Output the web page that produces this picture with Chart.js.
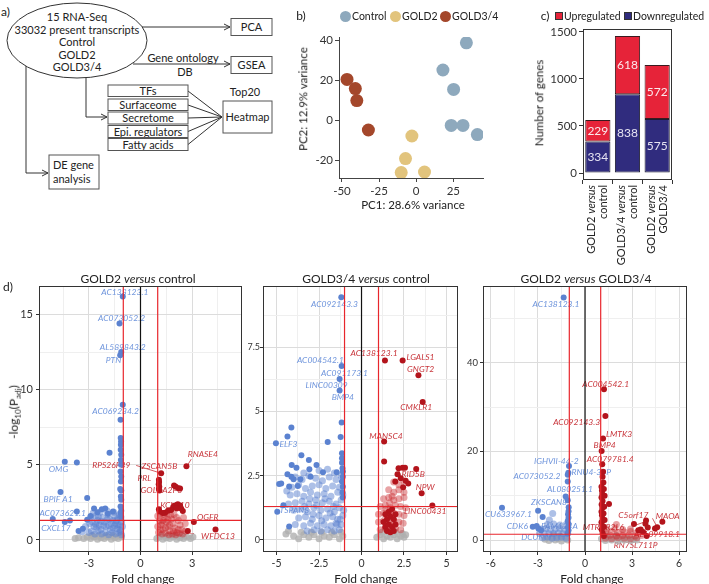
<!DOCTYPE html>
<html><head><meta charset="utf-8">
<script src="https://cdn.jsdelivr.net/npm/chart.js@4.4.1/dist/chart.umd.min.js"></script>
<style>
body{margin:0;background:#fff;}
#root{position:relative;width:709px;height:584px;overflow:hidden;font-family:Lato,"Noto Sans",sans-serif;color:#222;background:#fff;}
.t{position:absolute;white-space:nowrap;line-height:1;}
canvas{position:absolute;}
</style></head>
<body><div id="root">
<svg width="300" height="200" style="position:absolute;left:0;top:0" font-family="Lato, sans-serif" font-size="11" fill="#222">
<defs><marker id="arr" markerWidth="8" markerHeight="8" refX="7" refY="4" orient="auto" markerUnits="userSpaceOnUse"><path d="M1,1 L7,4 L1,7" fill="none" stroke="#333" stroke-width="1"/></marker></defs>
<text x="1" y="16" font-size="12">a)</text>
<ellipse cx="77" cy="40.5" rx="70" ry="37.5" fill="none" stroke="#333"/>
<g text-anchor="middle">
<text x="77" y="20.5">15 RNA-Seq</text>
<text x="77" y="33.5">33032 present transcripts</text>
<text x="77" y="46">Control</text>
<text x="77" y="58.5">GOLD2</text>
<text x="77" y="71">GOLD3/4</text>
<text x="251.5" y="31">PCA</text>
<text x="183" y="62">Gene ontology</text>
<text x="185" y="76">DB</text>
<text x="251.5" y="69">GSEA</text>
<text x="148" y="95">TFs</text>
<text x="148" y="109">Surfaceome</text>
<text x="148" y="122">Secretome</text>
<text x="148" y="135.5">Epi. regulators</text>
<text x="148" y="148.5">Fatty acids</text>
<text x="245" y="96">Top20</text>
<text x="247.5" y="121">Heatmap</text>
</g>
<text x="53" y="169">DE gene</text>
<text x="53" y="183">analysis</text>
<g stroke="#333" fill="none">
<line x1="142" y1="27" x2="230" y2="27" marker-end="url(#arr)"/>
<line x1="133" y1="64" x2="230" y2="64" marker-end="url(#arr)"/>
<polyline points="86,78 86,117 107,117" marker-end="url(#arr)"/>
<polyline points="26,66 26,173 48,173" marker-end="url(#arr)"/>
<line x1="188" y1="91" x2="222" y2="117"/>
<line x1="188" y1="105" x2="222" y2="117"/>
<line x1="188" y1="118" x2="222" y2="117"/>
<line x1="188" y1="131.5" x2="222" y2="117"/>
<line x1="188" y1="144.5" x2="222" y2="117"/>
</g>
<g stroke="#555" fill="none">
<rect x="231" y="18.5" width="41" height="17"/>
<rect x="231" y="56.5" width="41" height="17"/>
<rect x="108" y="85" width="80" height="11.5"/>
<rect x="108" y="99" width="80" height="11.5"/>
<rect x="108" y="112" width="80" height="12"/>
<rect x="108" y="125.5" width="80" height="12"/>
<rect x="108" y="138.5" width="80" height="12"/>
<rect x="223" y="101" width="49" height="32"/>
<rect x="49" y="155" width="50" height="34"/>
</g>
</svg>
<canvas id="pca" width="219" height="220" style="left:290px;top:0"></canvas>
<canvas id="bar" width="189" height="280" style="left:520px;top:0"></canvas>
<canvas id="v1" width="248" height="314" style="left:0;top:270px"></canvas>
<canvas id="v2" width="214" height="314" style="left:248px;top:270px"></canvas>
<canvas id="v3" width="247" height="314" style="left:462px;top:270px"></canvas>
</div>
<script>
// ---------- Panel b: PCA ----------
const pcaControl = [[33.8,38.6],[18,25],[25.2,15.3],[23.6,-2.7],[31.5,-2.7],[41.2,-7.3]];
const pcaGold2 = [[-2.9,-8],[-7.2,-19.3],[-10.1,-26.3],[5.6,-26]];
const pcaGold34 = [[-46.6,20.3],[-41,15.7],[-40,9.7],[-32.2,-5]];
const pcaXTicks = [-50,-25,0,25];
const pcaYTicks = [-20,0,20,40];

// ---------- Panel c: DE gene counts ----------
const degComparisons = [['GOLD2','control'],['GOLD3/4','control'],['GOLD2','GOLD3/4']];
const degDown = [334,838,575];
const degUp = [229,618,572];
const degTicks = [0,500,1000,1500];

// ---------- Panel d thresholds ----------
const foldCutoffs = [-1, 1];
const padjCutoff = 1.3;

// ---------- Panel d1: GOLD2 versus control ----------
const g2cDown = [[-1.03,16.2],[-1.22,14.4],[-1.12,12.5],[-1.18,12.3],[-1.03,9.0],[-1.16,8.0],
[-1.15,6.78],[-1.13,6.56],[-1.14,6.33],[-1.15,6.0],[-1.12,5.67],[-1.14,5.33],[-1.13,5.0],[-1.16,4.56],[-1.12,4.22],[-1.14,3.89],[-1.18,3.4],[-1.12,3.3],[-1.14,2.89],[-1.12,2.67],[-1.16,2.22],[-1.12,1.95],[-1.15,1.78],[-1.12,1.55],
[-1.8,5.8],[-4.4,5.2],[-3.7,5.15],[-4.65,3.2],[-3.1,2.8],[-3.7,1.9],[-5.1,1.4],[-4.4,1.2],[-4.1,1.3],[-3.6,0.6],[-3.35,0.75],
[-2.7,2.1],[-2.25,2.05],[-2.05,2.1],[-2.5,1.85],[-1.6,1.9],[-2.9,1.6],[-3.1,1.35],[-1.9,1.75]];
const g2cDownCloud = [[-2.9,1.5],[-2.8,1.2],[-2.7,0.9],[-2.6,1.6],[-2.5,1.3],[-2.4,1.0],[-2.3,0.7],[-2.2,1.5],[-2.1,1.2],[-2.0,0.9],[-1.9,1.7],[-1.8,1.4],[-1.7,1.1],[-1.6,0.8],[-1.5,1.6],[-1.4,1.3],[-1.3,1.0],[-1.2,0.7],[-1.1,1.2],[-1.05,0.9],
[-2.85,0.6],[-2.65,0.4],[-2.45,0.6],[-2.25,0.4],[-2.05,0.5],[-1.85,0.35],[-1.65,0.5],[-1.45,0.4],[-1.25,0.5],[-1.1,0.35],
[-2.75,1.8],[-2.35,1.85],[-1.95,1.95],[-1.55,1.85],[-1.25,1.7],[-3.2,0.9],[-3.4,0.55],[-3.0,0.5],[-2.55,0.85],[-2.15,0.95],[-1.75,0.7],[-1.35,0.75],[-1.15,1.45],[-2.95,1.1],[-1.45,1.1],
[-2.6,1.05],[-2.3,1.25],[-1.95,1.35],[-1.6,1.3],[-1.3,1.45],[-2.45,1.55],[-1.85,0.95],[-1.5,0.95],[-1.2,1.0],[-1.15,0.6]];
const g2cUp = [[2.67,4.9],[1.2,4.44],[1.07,4.0],[1.08,3.85],[1.06,3.7],[1.09,3.55],[1.07,3.4],[1.1,3.3],[1.95,3.62],[2.05,3.55],[2.2,3.45],[2.3,3.42],
[1.43,1.82],[1.78,2.0],[1.9,2.2],[2.0,2.3],[2.17,2.38],[2.3,2.3],[2.1,2.1],[2.36,2.1],[1.6,1.95],[1.07,2.04],[1.1,1.9],[1.3,1.8],[2.46,1.93],[3.1,1.2],[2.75,0.6],[4.36,0.7]];
const g2cUpCloud = [[1.0,1.6],[1.1,1.3],[1.2,1.0],[1.3,0.7],[1.4,1.5],[1.5,1.2],[1.6,0.9],[1.7,0.6],[1.8,1.4],[1.9,1.1],[2.0,0.8],[2.1,0.5],[2.2,1.3],[2.3,1.0],[2.4,0.7],[1.05,0.5],[1.25,0.4],[1.45,0.45],[1.65,0.35],[1.85,0.4],[2.05,0.35],[2.25,0.45],[1.15,1.75],[1.35,1.7],[1.55,1.75],[1.75,1.65],[1.95,1.7],[2.5,1.5],[2.6,1.1],[1.0,0.9],[1.3,1.3],[1.7,1.0],[2.1,1.5],[2.45,0.4],[2.6,0.6],
[1.15,0.7],[1.45,0.8],[1.6,1.35],[1.9,0.6],[2.2,0.7],[1.25,1.15]];
const g2cNs = [[-3.8,0.1],[-3.6,0.15],[-3.3,0.1],[-3.1,0.2],[-2.9,0.1],[-2.7,0.2],[-2.5,0.05],[-2.3,0.15],[-2.1,0.1],[-1.9,0.2],[-1.7,0.05],[-1.5,0.15],[-1.3,0.1],[-1.1,0.2],[-2.8,0.3],[-2.4,0.3],[-2.0,0.3],[-1.6,0.3],[-1.2,0.3],
[0.95,0.1],[1.1,0.2],[1.3,0.05],[1.5,0.15],[1.7,0.1],[1.9,0.2],[2.1,0.05],[2.3,0.15],[2.5,0.1],[2.7,0.2],[2.9,0.1],[1.2,0.3],[1.6,0.3],[2.0,0.3],[2.4,0.3],[3.05,0.2]];
const g2cLabels = [['AC138123.1',-0.91,16.5,'down'],['AC073052.2',-1.1,14.76,'down'],['AL589843.2',-1.03,12.82,'down'],['PTN',-1.57,11.93,'down'],['AC069234.2',-1.45,8.56,'down'],['OMG',-4.77,4.73,'down'],['BPIF A1',-4.79,2.73,'down'],['AC073621.1',-4.52,1.78,'down'],['CXCL17',-4.92,0.78,'down'],
['RPS26P39',-1.7,4.96,'up'],['ZSCAN5B',1.1,4.9,'up'],['PRL',0.23,4.13,'up'],['GOLGA2P6',1.2,3.33,'up'],['KCNJ10',2.0,2.3,'up'],['OGFR',3.91,1.5,'up'],['C5orf17',2.23,0.22,'up'],['WFDC13',4.5,0.22,'up'],['RNASE4',3.62,5.71,'up']];
const g2cConnectors = [[-0.25,4.96,1.2,4.44,'up'],[2.95,5.38,2.71,4.93,'up']];

// ---------- Panel d2: GOLD3/4 versus control ----------
const g34cDown = [[-1.19,9.44],[-1.17,6.77],[-1.29,6.26],[-1.29,5.81],[-1.17,4.57],[-1.23,4.0],[-1.99,3.81],
[-1.15,3.37],[-1.15,3.18],[-1.15,3.0],[-1.12,2.79],[-1.1,2.66],[-1.1,2.46],[-1.15,2.27],[-1.1,2.07],[-1.12,1.85],[-1.1,1.65],
[-5.04,3.76],[-4.13,4.37],[-4.36,4.02],[-3.54,3.29],[-4.11,2.92],[-3.83,2.81],[-3.1,3.11],[-4.36,2.56],[-4.85,2.18],[-4.73,2.2],[-4.26,2.08],[-4.6,1.35],[-4.96,1.1],[-4.26,0.52],
[-2.65,2.92],[-2.27,2.63],[-1.46,2.63],[-3.07,2.75],[-3.0,2.46],[-3.6,2.36],[-4.0,2.36],[-3.75,2.1],[-4.13,2.46]];
const g34cDownCloud = [[-3.9,2.45],[-3.5,2.35],[-3.1,2.5],[-2.7,2.4],[-2.3,2.3],[-1.9,2.45],[-1.5,2.35],[-1.2,2.5],
[-4.1,2.05],[-3.7,2.15],[-3.3,2.0],[-2.9,2.1],[-2.5,2.15],[-2.1,2.0],[-1.7,2.1],[-1.3,2.05],
[-4.2,1.75],[-3.8,1.8],[-3.4,1.7],[-3.0,1.85],[-2.6,1.75],[-2.2,1.8],[-1.8,1.7],[-1.4,1.85],[-1.1,1.75],
[-3.9,1.45],[-3.5,1.5],[-3.1,1.4],[-2.7,1.55],[-2.3,1.45],[-1.9,1.5],[-1.5,1.4],[-1.2,1.55],
[-4.0,1.15],[-3.6,1.2],[-3.2,1.1],[-2.8,1.25],[-2.4,1.15],[-2.0,1.2],[-1.6,1.1],[-1.3,1.25],[-1.05,1.15],
[-3.7,0.85],[-3.3,0.9],[-2.9,0.8],[-2.5,0.95],[-2.1,0.85],[-1.7,0.9],[-1.4,0.8],[-1.1,0.95],
[-3.9,0.6],[-3.4,0.55],[-3.0,0.65],[-2.6,0.55],[-2.2,0.6],[-1.8,0.55],[-1.5,0.65],[-1.2,0.6],
[-3.2,0.35],[-2.8,0.4],[-2.4,0.35],[-2.0,0.4],[-1.6,0.35],[-1.3,0.4],
[-2.5,2.7],[-2.0,2.75],[-1.6,2.6],[-3.4,2.6],[-4.4,1.9],[-4.3,1.4],
[-2.85,1.0],[-2.35,0.75],[-1.85,1.05],[-1.45,0.6],[-2.65,1.35],[-2.15,1.6],[-1.65,1.3],[-1.25,0.8],[-3.05,1.6],[-3.35,1.3]];
const g34cUp = [[1.38,6.98],[2.42,6.98],[3.35,6.41],[3.6,5.37],[1.33,3.83],[1.33,3.05],[2.18,2.79],[2.42,2.81],[2.56,2.81],[3.22,2.76],[2.12,2.56],[2.75,2.2],[3.54,1.82],[4.17,1.34],
[1.99,2.27],[2.31,2.4],[2.6,2.3],[2.45,2.05],
[1.4,0.5],[1.6,0.6],[1.8,0.5],[1.5,0.8],[1.7,0.9],[1.9,0.8],[1.6,1.1],[1.8,1.2],[2.0,1.0],[1.4,1.0],[1.5,0.35],[1.7,0.3],[1.9,0.35],[2.0,0.6],[1.3,0.7]];
const g34cUpCloud = [[1.9,2.25],[2.2,2.15],[2.5,2.3],[1.6,1.95],[1.9,1.85],[2.2,1.95],[2.5,1.85],
[1.3,1.6],[1.6,1.65],[1.9,1.55],[2.2,1.6],[2.5,1.65],[1.1,1.3],[1.4,1.35],[1.7,1.25],[2.0,1.35],[2.3,1.3],[2.6,1.25],
[1.0,1.0],[1.3,1.05],[1.6,0.95],[1.9,1.05],[2.2,1.0],[2.5,0.95],[1.0,0.7],[1.3,0.75],[1.6,0.65],[1.9,0.75],[2.2,0.7],[2.45,0.65],
[1.1,0.4],[1.4,0.45],[1.7,0.35],[2.0,0.45],[2.3,0.4],[1.45,1.2],[1.55,0.85],[1.75,1.0],[1.65,1.45],[1.85,0.55],[1.5,0.5],[1.8,1.7]];
const g34cNs = [[-4.45,0.23],[-4.0,0.15],[-3.7,0.05],[-3.4,0.2],[-3.1,0.1],[-2.8,0.2],[-2.5,0.05],[-2.2,0.15],[-1.9,0.1],[-1.6,0.2],[-1.3,0.05],[-1.1,0.15],[-3.55,0.3],[-2.95,0.3],[-2.35,0.3],[-1.75,0.3],[-1.2,0.3],[-4.3,0.35],
[0.9,0.1],[1.1,0.2],[1.3,0.05],[1.5,0.15],[1.7,0.1],[1.9,0.2],[2.1,0.05],[2.3,0.15],[2.5,0.1],[1.2,0.3],[1.6,0.3],[2.0,0.3],[2.4,0.25],[2.6,0.2]];
const g34cLabels = [['AC092143.3',-1.59,9.18,'down'],['AC004542.1',-2.42,6.98,'down'],['AC091173.1',-1.0,6.49,'down'],['LINC00309',-2.06,6.02,'down'],['BMP4',-1.1,5.55,'down'],['ELF3',-4.3,3.74,'down'],['TSPAN8',-3.95,1.14,'down'],
['AC138123.1',0.74,7.26,'up'],['LGALS1',3.47,7.09,'up'],['GNGT2',3.48,6.64,'up'],['CMKLR1',3.22,5.15,'up'],['MANSC4',1.44,4.05,'up'],['ARID5B',2.88,2.56,'up'],['NPW',3.75,2.04,'up'],['LINC00431',3.75,1.13,'up']];

// ---------- Panel d3: GOLD2 versus GOLD3/4 ----------
const g2g34Down = [[-1.36,54.7],[-1.02,16.7],[-1.06,15.2],[-1.1,14.7],[-1.1,13.2],[-1.23,9.8],[-1.1,9.0],[-1.04,7.4],
[-1.05,6.5],[-1.08,5.8],[-1.05,5.0],[-1.1,4.3],[-1.05,3.6],[-1.08,2.9],[-1.05,2.2],[-1.1,1.5],
[-5.29,7.3],[-2.99,6.6],[-2.7,5.2],[-3.33,3.0],[-2.97,2.6],[-3.08,3.16],[-2.8,2.2]];
const g2g34DownCloud = [[-2.06,6.0],[-2.27,4.5],[-2.4,3.5],[-2.0,3.6],[-1.6,3.4],[-1.2,3.5],
[-2.8,2.5],[-2.5,2.6],[-2.2,2.4],[-1.9,2.5],[-1.6,2.6],[-1.3,2.4],
[-2.9,1.5],[-2.6,1.6],[-2.3,1.4],[-2.0,1.5],[-1.7,1.6],[-1.4,1.4],[-1.1,1.5],
[-2.7,0.5],[-2.4,0.6],[-2.1,0.4],[-1.8,0.5],[-1.5,0.6],[-1.2,0.4]];
const g2g34Up = [[1.21,34.0],[1.3,28.0],[1.15,22.9],[1.06,20.1],[1.1,17.1],[1.15,15.4],[1.12,14.3],[1.17,13.0],[1.53,8.1],
[1.05,12.0],[1.08,11.2],[1.1,10.4],[1.05,9.6],[1.12,8.8],[1.06,8.0],[1.1,7.2],[1.05,6.4],[1.08,5.6],[1.12,4.8],[1.05,4.0],[1.1,3.2],[1.06,2.4],[1.12,1.6],[1.2,0.9],
[1.2,11.5],[1.25,10.0],[1.22,7.5],[1.18,6.0],[1.25,4.5],[1.2,3.0],
[3.12,3.6],[3.89,4.4],[4.46,2.6],[4.93,4.1],[3.55,2.4],[3.93,0.9],[3.85,3.7],[3.4,2.2],[4.0,2.8],[3.7,1.8],[4.6,2.9]];
const g2g34UpCloud = [[1.4,2.5],[1.9,2.6],[2.4,2.4],[2.9,2.5],[1.3,1.8],[1.7,1.9],[2.1,1.7],[2.5,1.8],[2.9,1.9],[3.3,1.7],
[1.2,1.0],[1.6,1.1],[2.0,0.9],[2.4,1.0],[2.8,1.1],[3.2,0.9],[3.6,1.0],[1.3,0.4],[1.7,0.3],[2.1,0.5],[2.5,0.4],[2.9,0.3],[3.3,0.5],[2.0,3.5]];
const g2g34Ns = [[-2.55,0.2],[-2.3,-0.1],[-2.1,0.5],[-1.9,0.0],[-1.7,0.3],[-1.5,-0.2],[-1.3,0.4],[-1.1,0.0],[-2.0,1.0],[-1.6,0.9],
[1.05,0.3],[1.3,-0.1],[1.5,0.4],[1.7,0.0],[1.9,0.5],[2.1,-0.2],[2.3,0.3],[2.5,0.0],[2.7,0.4],[2.9,-0.1],[3.1,0.2],[3.3,0.0],[1.4,0.9],[2.0,1.0]];
const g2g34Labels = [['AC138123.1',-1.85,53.2,'down'],['IGHVII-44-2',-1.83,17.8,'down'],['RNU4-33P',0.4,15.3,'down'],['AC073052.2',-3.06,14.3,'down'],['AL080251.1',-0.96,11.5,'down'],['ZKSCAN8',-2.29,8.6,'down'],['CU633967.1',-4.88,5.8,'down'],['CDK6',-4.31,3.16,'down'],['FAM124A',-1.63,3.16,'down'],['DCUN1D3',-2.82,0.6,'down'],
['AC004542.1',1.32,35.2,'up'],['AC092143.3',-0.53,26.5,'up'],['LMTK3',2.17,23.9,'up'],['BMP4',1.25,21.4,'up'],['AC079781.4',1.61,18.3,'up'],['C5orf17',3.08,5.56,'up'],['MAOA',5.27,5.26,'up'],['MTRNR2L6',1.17,2.86,'up'],['AL109918.1',4.59,1.28,'up'],['RN7SL711P',3.23,-1.28,'up']];
const g2g34Connectors = [[3.25,3.4,3.9,4.2,'up'],[4.3,4.9,4.6,2.9,'up']];

// ---------- styling ----------
const C_CTRL='#8ea9bd', C_G2='#e2c47d', C_G34='#a4472b';
const NAVY='#302c7e', CRIMSON='#e62339';
const BLUE='#5b82d0', BLUE_A='rgba(91,130,208,0.5)', RED='#b3141c', RED_A='rgba(200,35,40,0.42)', GREY='rgba(175,175,175,0.8)';
const LBL_BLUE='#6f95dc', LBL_RED='#c8353b';
const FONT='Lato, "Noto Sans", sans-serif';
Chart.defaults.font.family = FONT;
const xy = a => a.map(([x,y]) => ({x,y}));
const root = document.getElementById('root');

// PCA
new Chart(document.getElementById('pca'), {
  type:'scatter',
  data:{datasets:[
    {data:xy(pcaControl), backgroundColor:C_CTRL, pointRadius:6.5, borderWidth:0},
    {data:xy(pcaGold2), backgroundColor:C_G2, pointRadius:6.5, borderWidth:0},
    {data:xy(pcaGold34), backgroundColor:C_G34, pointRadius:6.5, borderWidth:0}]},
  options:{responsive:false, animation:false, devicePixelRatio:1,
    layout:{padding:{left:0,right:26,top:37,bottom:0}},
    plugins:{legend:{display:false}, tooltip:{enabled:false}},
    scales:{
      x:{min:-52,max:45, afterBuildTicks:s=>{s.ticks=pcaXTicks.map(v=>({value:v}));},
        afterFit:s=>{s.height=42;s.paddingLeft=0;s.paddingRight=0;},
        ticks:{autoSkip:false,maxRotation:0,padding:2,color:'#333',font:{size:11.5},callback:v=>String(v)},
        grid:{drawOnChartArea:false,tickLength:4,tickColor:'#444'}, border:{display:true,color:'#444'}},
      y:{min:-29,max:41.5, afterBuildTicks:s=>{s.ticks=pcaYTicks.map(v=>({value:v}));},
        afterFit:s=>{s.width=49;s.paddingTop=0;s.paddingBottom=0;},
        ticks:{autoSkip:false,padding:2,color:'#333',font:{size:11.5},callback:v=>String(v)},
        grid:{drawOnChartArea:false,tickLength:4,tickColor:'#444'}, border:{display:true,color:'#444'}}
    }}
});

// Bar chart
const barPlugin = {
  id:'barDeco',
  afterDatasetsDraw(chart){
    const {ctx, chartArea:a} = chart;
    ctx.save();
    ctx.font='12px '+FONT; ctx.textAlign='center'; ctx.textBaseline='middle';
    chart.data.datasets.forEach((ds,di)=>{
      chart.getDatasetMeta(di).data.forEach((el,i)=>{
        ctx.fillStyle = di===0 ? '#e6e4f2' : '#fbe9ec';
        ctx.fillText(String(ds.data[i]), el.x, (el.y+el.base)/2);
      });
    });
    ctx.strokeStyle='#333'; ctx.lineWidth=1;
    ctx.strokeRect(a.left+0.5,a.top+0.5,a.width-1,a.height-1);
    const xs = chart.scales.x;
    degComparisons.forEach((c,i)=>{
      const cx = xs.getPixelForValue(i);
      const top = a.bottom + 5;
      ctx.save();
      ctx.translate(cx, top); ctx.rotate(-Math.PI/2);
      ctx.fillStyle='#222'; ctx.textBaseline='middle';
      ctx.font='11px '+FONT; const w1=ctx.measureText(c[0]+' ').width;
      ctx.font='italic 11px '+FONT; const w2=ctx.measureText('versus').width;
      ctx.textAlign='left';
      ctx.font='11px '+FONT; ctx.fillText(c[0]+' ', -(w1+w2), -6);
      ctx.font='italic 11px '+FONT; ctx.fillText('versus', -w2, -6);
      ctx.font='11px '+FONT; ctx.textAlign='right'; ctx.fillText(c[1], 0, 6);
      ctx.restore();
    });
    ctx.restore();
  }
};
new Chart(document.getElementById('bar'), {
  type:'bar',
  data:{labels:degComparisons.map(c=>c[0]+' versus '+c[1]), datasets:[
    {label:'Downregulated', data:degDown, backgroundColor:NAVY, borderColor:'#1c1c30', borderWidth:1, borderSkipped:false, categoryPercentage:1, barPercentage:0.85},
    {label:'Upregulated', data:degUp, backgroundColor:CRIMSON, borderColor:'#3a1a1f', borderWidth:1, borderSkipped:false, categoryPercentage:1, barPercentage:0.85}]},
  options:{responsive:false, animation:false, devicePixelRatio:1,
    layout:{padding:{left:0,right:37,top:29,bottom:0}},
    plugins:{legend:{display:false}, tooltip:{enabled:false}},
    scales:{
      x:{stacked:true, ticks:{display:false}, grid:{drawOnChartArea:false,tickLength:4,tickColor:'#333'}, border:{display:false},
        afterFit:s=>{s.height=100;s.paddingLeft=0;s.paddingRight=0;}},
      y:{stacked:true, min:-74, max:1530, afterBuildTicks:s=>{s.ticks=degTicks.map(v=>({value:v}));},
        afterFit:s=>{s.width=63;s.paddingTop=0;s.paddingBottom=0;},
        ticks:{autoSkip:false,padding:2,color:'#333',font:{size:11.5},callback:v=>String(v)},
        grid:{drawOnChartArea:false,tickLength:4,tickColor:'#333'}, border:{display:false}}
    }},
  plugins:[barPlugin]
});

// Volcano plots
const volcanoPlugin = {
  id:'volcano',
  beforeDatasetsDraw(chart, args, o){
    const {ctx, scales:{x,y}} = chart;
    ctx.save();
    ctx.lineWidth=0.8;
    (o.connectors||[]).forEach(([x1,y1,x2,y2,k])=>{
      ctx.strokeStyle = k==='up'?LBL_RED:LBL_BLUE;
      ctx.beginPath(); ctx.moveTo(x.getPixelForValue(x1),y.getPixelForValue(y1)); ctx.lineTo(x.getPixelForValue(x2),y.getPixelForValue(y2)); ctx.stroke();
    });
    ctx.font='italic 8.5px '+FONT; ctx.textAlign='center'; ctx.textBaseline='middle';
    (o.labels||[]).forEach(([t,lx,ly,k])=>{
      ctx.fillStyle = k==='up'?LBL_RED:LBL_BLUE;
      ctx.fillText(t, x.getPixelForValue(lx), y.getPixelForValue(ly));
    });
    ctx.restore();
  },
  afterDatasetsDraw(chart, args, o){
    const {ctx, chartArea:a, scales:{x,y}} = chart;
    ctx.save();
    ctx.beginPath(); ctx.rect(a.left,a.top,a.width,a.height); ctx.clip();
    ctx.lineWidth=1.2;
    const v = (px,c)=>{ctx.strokeStyle=c; ctx.beginPath(); ctx.moveTo(px,a.top); ctx.lineTo(px,a.bottom); ctx.stroke();};
    v(x.getPixelForValue(0),'#111');
    foldCutoffs.forEach(f=>v(x.getPixelForValue(f),'#e8262c'));
    const py=y.getPixelForValue(padjCutoff);
    ctx.strokeStyle='#e8262c'; ctx.beginPath(); ctx.moveTo(a.left,py); ctx.lineTo(a.right,py); ctx.stroke();
    ctx.restore();
    ctx.save(); ctx.strokeStyle='#333'; ctx.lineWidth=1;
    ctx.strokeRect(a.left+0.5,a.top+0.5,a.width-1,a.height-1); ctx.restore();
  }
};
function axisOpts(min,max,major,minor,isX,size,fontSize,pad){
  const all = major.concat(minor).sort((a,b)=>a-b);
  const isMaj = v => major.some(m=>Math.abs(m-v)<1e-9);
  return {type:'linear', min, max,
    afterBuildTicks:s=>{s.ticks=all.map(v=>({value:v}));},
    afterFit: isX ? (s=>{s.height=size;s.paddingLeft=0;s.paddingRight=0;}) : (s=>{s.width=size;s.paddingTop=0;s.paddingBottom=0;}),
    ticks:{autoSkip:false,maxRotation:0,padding:pad,color:'#333',font:{size:fontSize},callback:v=>isMaj(v)?String(v):''},
    grid:{color:c=>(c.tick&&isMaj(c.tick.value))?'#dcdcdc':'#efefef', tickColor:c=>(c.tick&&isMaj(c.tick.value))?'#333':'rgba(0,0,0,0)', tickLength:3, lineWidth:1},
    border:{display:false}};
}
function volcano(id, d){
  new Chart(document.getElementById(id), {
    type:'scatter',
    data:{datasets:[
      {data:xy(d.up), backgroundColor:RED, pointRadius:3, borderWidth:0},
      {data:xy(d.down), backgroundColor:BLUE, pointRadius:3, borderWidth:0},
      {data:xy(d.upCloud), backgroundColor:RED_A, pointRadius:3.5, borderWidth:0},
      {data:xy(d.downCloud), backgroundColor:BLUE_A, pointRadius:3.5, borderWidth:0},
      {data:xy(d.ns), backgroundColor:GREY, pointRadius:3.5, borderWidth:0}]},
    options:{responsive:false, animation:false, devicePixelRatio:1,
      layout:{padding:{left:0,right:d.padR,top:16,bottom:0}},
      plugins:{legend:{display:false}, tooltip:{enabled:false}, volcano:{labels:d.labels, connectors:d.connectors}},
      scales:{
        x:axisOpts(d.xr[0],d.xr[1],d.xMaj,d.xMin,true,32,d.xFont,2),
        y:axisOpts(d.yr[0],d.yr[1],d.yMaj,d.yMin,false,d.yW,d.yFont,d.yPad)
      }},
    plugins:[volcanoPlugin]
  });
}
volcano('v1',{up:g2cUp,down:g2cDown,upCloud:g2cUpCloud,downCloud:g2cDownCloud,ns:g2cNs,labels:g2cLabels,connectors:g2cConnectors,
  padR:6,yW:39,yPad:3,xFont:11,yFont:11,xr:[-5.9,5.9],yr:[-0.8,16.9],xMaj:[-3,0,3],xMin:[-4.5,-1.5,1.5,4.5],yMaj:[0,5,10,15],yMin:[2.5,7.5,12.5]});
volcano('v2',{up:g34cUp,down:g34cDown,upCloud:g34cUpCloud,downCloud:g34cDownCloud,ns:g34cNs,labels:g34cLabels,connectors:[],
  padR:-3,yW:15,yPad:0,xFont:10.5,yFont:9,xr:[-5.8,5.68],yr:[-0.47,9.88],xMaj:[-5,-2.5,0,2.5,5],xMin:[-3.75,-1.25,1.25,3.75],yMaj:[0,2.5,5,7.5],yMin:[1.25,3.75,6.25,8.75]});
volcano('v3',{up:g2g34Up,down:g2g34Down,upCloud:g2g34UpCloud,downCloud:g2g34DownCloud,ns:g2g34Ns,labels:g2g34Labels,connectors:g2g34Connectors,
  padR:22,yW:21,yPad:2,xFont:10.5,yFont:9.5,xr:[-6.5,6.5],yr:[-2.7,57.3],xMaj:[-6,-3,0,3,6],xMin:[-4.5,-1.5,1.5,4.5],yMaj:[0,20,40],yMin:[10,30,50]});

// ---------- HTML text ----------
function txt(html,x,y,o={}){
  const d=document.createElement('div'); d.className='t'; d.innerHTML=html;
  d.style.left=x+'px'; d.style.top=y+'px'; d.style.fontSize=(o.size||12)+'px';
  const tx = o.left ? 'translate(0,-50%)' : 'translate(-50%,-50%)';
  d.style.transform = tx + (o.rot?' rotate(-90deg)':'');
  if(o.color) d.style.color=o.color;
  root.appendChild(d);
}
function box(x,y,w,h,bg,radius,border){
  const d=document.createElement('div'); d.style.position='absolute';
  d.style.left=x+'px'; d.style.top=y+'px'; d.style.width=w+'px'; d.style.height=h+'px';
  d.style.background=bg; d.style.borderRadius=radius; d.style.boxSizing='border-box';
  if(border) d.style.border=border;
  root.appendChild(d);
}
txt('b)',301,16);
box(339.5,10.5,11,11,C_CTRL,'50%'); txt('Control',352,16,{left:1,size:10.5});
box(389.5,10.5,11,11,C_G2,'50%'); txt('GOLD2',402,16,{left:1,size:10.5});
box(439.5,10.5,11,11,C_G34,'50%'); txt('GOLD3/4',452,16,{left:1,size:10.5});
txt('PC1: 28.6% variance',413,205,{size:11.5});
txt('PC2: 12.9% variance',303,99,{size:11.5,rot:1});
txt('c)',545,16);
box(555,12,8,8,CRIMSON,'0','1px solid #333'); txt('Upregulated',564,16,{left:1,size:10.5});
box(624,12,8,8,NAVY,'0','1px solid #333'); txt('Downregulated',633,16,{left:1,size:10.5});
txt('Number of genes',539,103,{size:11.5,rot:1});
txt('d)',8,287);
txt('GOLD2 <i>versus</i> control',138,279);
txt('GOLD3/4 <i>versus</i> control',366,279);
txt('GOLD2 <i>versus</i> GOLD3/4',586,279);
txt('Fold change',143,579);
txt('Fold change',366,579);
txt('Fold change',592,579);
txt('-log<sub style="font-size:8px">10</sub>(P<sub style="font-size:8px">adj</sub>)',15,412,{rot:1});
</script>
</body></html>
